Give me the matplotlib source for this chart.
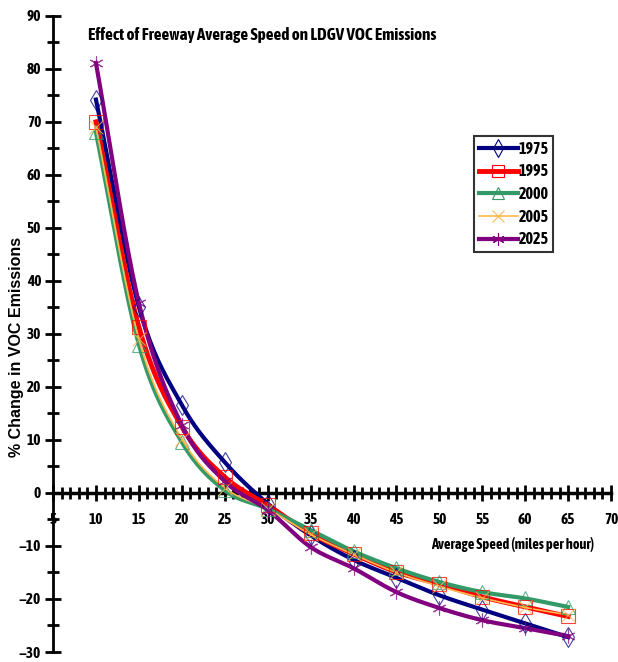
import numpy as np
import matplotlib
matplotlib.use('Agg')
import matplotlib.pyplot as plt
from matplotlib import font_manager as fm
from matplotlib.ticker import MultipleLocator

#Look for a narrow font, the original uses Arial Narrow style text
#prefer one that also comes in bold
narrow = None
stretch = 'normal'
cands = [f for f in fm.fontManager.ttflist if 'Narrow' in f.name or 'Condensed' in f.name]
bold_cands = [f for f in cands if isinstance(f.weight, int) and f.weight >= 600 or f.weight == 'bold']
if bold_cands:
    narrow = bold_cands[0].name
elif cands:
    narrow = cands[0].name
else:
    for f in fm.fontManager.ttflist:
        if f.name in ('DejaVu Sans', 'Liberation Sans', 'Open Sans', 'Roboto') and f.stretch not in ('normal', 500):
            narrow = f.name
            stretch = f.stretch
            break
if narrow is None:
    narrow = 'Liberation Sans'
plt.rcParams['font.family'] = [narrow, 'Liberation Sans', 'DejaVu Sans']
plt.rcParams['font.stretch'] = stretch

#Data
speed = [10, 15, 20, 25, 30, 35, 40, 45, 50, 55, 60, 65]
years = ['1975', '1995', '2000', '2005', '2025']
voc_1975 = [74.2, 35.1, 16.6, 5.8, -2.0, -8.0, -12.6, -16.0, -19.3, -22.0, -24.6, -27.2]
voc_1995 = [70.0, 31.3, 12.5, 3.0, -2.3, -7.6, -11.5, -14.9, -17.2, -19.6, -21.5, -23.3]
voc_2000 = [68.0, 28.0, 9.6, 0.5, -3.0, -7.0, -11.0, -14.2, -16.8, -18.7, -19.9, -21.5]
voc_2005 = [69.0, 29.0, 10.2, 1.0, -3.0, -7.8, -11.6, -15.0, -17.6, -19.8, -21.6, -23.0]
voc_2025 = [81.1, 35.8, 12.8, 2.2, -3.2, -10.2, -14.2, -18.7, -21.7, -24.0, -25.5, -27.0]

colors = ['#000080', '#FF0000', '#339966', '#FFB84D', '#800080']
markers = ['d', 's', '^', 'x', (6, 2, 0)]
widths = [3, 3.5, 3, 1.2, 3]


#Excel style smoothed line (Catmull-Rom through the points)
def smooth(x, y, n=20):
    x = np.asarray(x, float)
    y = np.asarray(y, float)
    px = np.concatenate([[2 * x[0] - x[1]], x, [2 * x[-1] - x[-2]]])
    py = np.concatenate([[2 * y[0] - y[1]], y, [2 * y[-1] - y[-2]]])
    xs, ys = [], []
    t = np.linspace(0, 1, n, endpoint=False)
    for i in range(1, len(px) - 2):
        for p, out in ((px, xs), (py, ys)):
            p0, p1, p2, p3 = p[i - 1], p[i], p[i + 1], p[i + 2]
            out.extend(0.5 * ((2 * p1) + (-p0 + p2) * t
                              + (2 * p0 - 5 * p1 + 4 * p2 - p3) * t ** 2
                              + (-p0 + 3 * p1 - 3 * p2 + p3) * t ** 3))
    xs.append(x[-1])
    ys.append(y[-1])
    return xs, ys


fig = plt.figure(figsize=(6.18, 6.62), dpi=100)
ax = fig.add_axes([0.0858, 0.0151, 0.903, 0.961])

series = [voc_1975, voc_1995, voc_2000, voc_2005, voc_2025]
for yr, vals, c, m, w in zip(years, series, colors, markers, widths):
    sx, sy = smooth(speed, vals)
    ax.plot(sx, sy, color=c, lw=w, zorder=3, clip_on=False)
    ax.plot(speed, vals, ls='none', marker=m, ms=10, mfc='none', mec=c,
            mew=0.8, alpha=0.75, zorder=4, clip_on=False)
    #legend handle
    ax.plot([], [], color=c, lw=w, marker=m, ms=9, mfc='none', mec=c, mew=0.8, label=yr)

ax.set_xlim(5, 70)
ax.set_ylim(-30, 90)

#axes crossing at zero like the original
ax.spines['top'].set_visible(False)
ax.spines['right'].set_visible(False)
ax.spines['bottom'].set_position(('data', 0))
ax.spines['left'].set_linewidth(2)
ax.spines['bottom'].set_linewidth(2.5)

ax.xaxis.set_major_locator(MultipleLocator(5))
ax.xaxis.set_minor_locator(MultipleLocator(1))
ax.yaxis.set_major_locator(MultipleLocator(10))
ax.yaxis.set_minor_locator(MultipleLocator(5))
ax.tick_params(which='major', direction='inout', length=11, width=2, labelsize=11)
ax.tick_params(which='minor', direction='inout', length=9, width=2)
ax.tick_params(axis='x', which='major', pad=9)
ax.tick_params(axis='y', which='major', pad=3)
for lab in ax.get_xticklabels() + ax.get_yticklabels():
    lab.set_fontweight('bold')

title = fig.text(0.424, 0.947, 'Effect of Freeway Average Speed on LDGV VOC Emissions',
                 ha='center', va='center', fontsize=12, fontweight='bold')
xlab = fig.text(0.83, 0.177, 'Average Speed (miles per hour)', ha='center', va='center',
                fontsize=11, fontweight='bold')
fig.text(0.027, 0.476, '% Change in VOC Emissions', ha='center', va='center',
         rotation=90, fontsize=11.5, fontweight='bold', family=['Liberation Sans', 'DejaVu Sans'],
         stretch='normal')


#shrink the narrow texts to the width they have in the original
def fit_width(txt, target_px):
    r = fig.canvas.get_renderer()
    w = txt.get_window_extent(r).width
    txt.set_fontsize(txt.get_fontsize() * target_px / w)


fit_width(title, 347)
fit_width(xlab, 163)

leg = ax.legend(loc='upper left', bbox_to_anchor=(0.7545, 0.811), borderaxespad=0,
                frameon=True, fancybox=False, handlelength=2.45, handletextpad=0.05,
                labelspacing=0.42, borderpad=0.28, prop={'weight': 'bold', 'size': 11.5})
leg.get_frame().set_edgecolor('black')
leg.get_frame().set_linewidth(1.5)

fig.savefig('out.png', dpi=100)
